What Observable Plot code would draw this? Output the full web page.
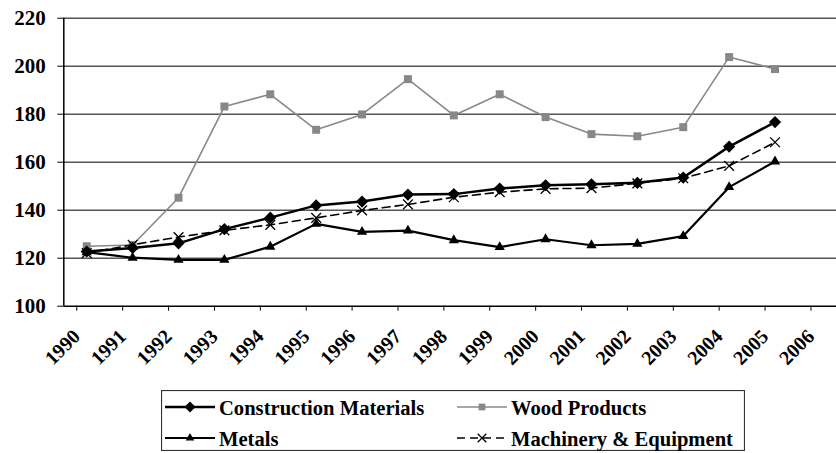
<!DOCTYPE html>
<html><head><meta charset="utf-8">
<script src="https://cdn.jsdelivr.net/npm/d3@7"></script>
<script src="https://cdn.jsdelivr.net/npm/@observablehq/plot@0.6"></script>
<style>
body{margin:0;background:#fff;}
#wrap{position:relative;width:836px;height:453px;overflow:hidden;}
#legend{position:absolute;left:161px;top:390px;}
svg text{font-family:"Liberation Serif","Times New Roman",Times,serif !important;font-weight:bold;}
</style></head><body><div id="wrap"></div>
<script>
const years = [1990,1991,1992,1993,1994,1995,1996,1997,1998,1999,2000,2001,2002,2003,2004,2005];
const tickYears = [1990,1991,1992,1993,1994,1995,1996,1997,1998,1999,2000,2001,2002,2003,2004,2005,2006];
const yTicks = [100,120,140,160,180,200,220];
const seriesNames = ["Construction Materials","Wood Products","Metals","Machinery & Equipment"];
const construction = [122.8,124.3,126.2,132.1,136.9,142.0,143.6,146.5,146.7,149.0,150.4,150.8,151.4,153.6,166.5,176.7];
const wood = [125.0,125.5,145.2,183.2,188.3,173.5,179.9,194.6,179.5,188.3,178.8,171.7,170.8,174.6,203.8,198.8];
const metals = [122.5,120.2,119.3,119.3,124.8,134.3,131.0,131.5,127.5,124.6,127.9,125.4,126.0,129.2,149.6,160.3];
const machinery = [122.1,125.6,128.8,131.6,133.9,136.8,139.9,142.4,145.4,147.5,148.9,149.2,151.2,153.3,158.5,168.3];

const rows = (vals) => years.map((y, i) => ({year: y, value: vals[i]}));
const dWood = rows(wood), dCon = rows(construction), dMet = rows(metals), dMac = rows(machinery);
const xm = d => d.year + 0.5;
const FONT = '"Liberation Serif","Times New Roman",Times,serif';

const chart = Plot.plot({
  width: 836, height: 453,
  marginLeft: 63.3, marginRight: 0, marginTop: 17.7, marginBottom: 147.3,
  x: {domain: [1990, 2006.84], axis: null},
  y: {domain: [100, 220], axis: null},
  style: {fontFamily: FONT, fontWeight: "bold", fontSize: "20px", color: "#000", background: "#fff"},
  marks: [
    Plot.ruleY(yTicks.filter(v => v > 100), {stroke: "#555", strokeWidth: 1.4}),
    Plot.ruleY([100], {stroke: "#000", strokeWidth: 1.5}),
    Plot.ruleX([1990], {y1: 100, y2: 220, stroke: "#000", strokeWidth: 1.5}),
    Plot.axisY({ticks: yTicks, label: null, tickSize: 6, tickPadding: 12, fontSize: 21, fontWeight: "bold", fontFamily: FONT, stroke: "#000"}),
    Plot.axisX({ticks: tickYears, label: null, tickFormat: d => String(d), tickSize: 5, tickPadding: 22, tickRotate: -45, dx: 13, fontSize: 20, fontWeight: "bold", fontFamily: FONT, stroke: "#000"}),
    Plot.line(dWood, {x: xm, y: "value", stroke: "#888", strokeWidth: 1.6}),
    Plot.dot(dWood, {x: xm, y: "value", symbol: "square", r: 4.5, fill: "#888", stroke: "none"}),
    Plot.line(dCon, {x: xm, y: "value", stroke: "#000", strokeWidth: 2.5}),
    Plot.dot(dCon, {x: xm, y: "value", symbol: "diamond2", r: 5.5, fill: "#000", stroke: "none"}),
    Plot.line(dMet, {x: xm, y: "value", stroke: "#000", strokeWidth: 2.2}),
    Plot.dot(dMet, {x: xm, y: "value", symbol: "triangle", r: 3.8, fill: "#000", stroke: "none"}),
    Plot.line(dMac, {x: xm, y: "value", stroke: "#000", strokeWidth: 1.6, strokeDasharray: "8,5"}),
    Plot.dot(dMac, {x: xm, y: "value", symbol: "times", r: 4.5, stroke: "#000", strokeWidth: 1.3})
  ]
});
const wrap = document.getElementById("wrap");
wrap.appendChild(chart);

// Legend
const lw = 584, lh = 61;
const leg = d3.select(wrap).append("svg").attr("id", "legend").attr("width", lw).attr("height", lh)
  .attr("font-family", FONT).attr("font-weight", "bold").attr("font-size", 20.6);
leg.append("rect").attr("x", 0.5).attr("y", 0.5).attr("width", lw - 1).attr("height", lh - 1)
  .attr("fill", "#fff").attr("stroke", "#333").attr("stroke-width", 1.2);
const items = [
  {name: seriesNames[0], col: 0, row: 0, stroke: "#000", sw: 2.5, dash: null, sym: d3.symbolDiamond2, r: 5, fill: "#000", symStroke: "none"},
  {name: seriesNames[1], col: 1, row: 0, stroke: "#888", sw: 1.6, dash: null, sym: d3.symbolSquare, r: 3.8, fill: "#888", symStroke: "none"},
  {name: seriesNames[2], col: 0, row: 1, stroke: "#000", sw: 2.2, dash: null, sym: d3.symbolTriangle, r: 3.2, fill: "#000", symStroke: "none"},
  {name: seriesNames[3], col: 1, row: 1, stroke: "#000", sw: 1.6, dash: "8,5", sym: d3.symbolTimes, r: 4, fill: "none", symStroke: "#000"}
];
const colX = [4, 296], rowY = [17, 48];
items.forEach(it => {
  const x0 = colX[it.col], yy = rowY[it.row];
  leg.append("line").attr("x1", x0).attr("x2", x0 + 50).attr("y1", yy).attr("y2", yy)
    .attr("stroke", it.stroke).attr("stroke-width", it.sw).attr("stroke-dasharray", it.dash);
  leg.append("path").attr("d", d3.symbol(it.sym, Math.PI * it.r * it.r)())
    .attr("transform", `translate(${x0 + 25},${yy})`).attr("fill", it.fill)
    .attr("stroke", it.symStroke).attr("stroke-width", 1.3);
  leg.append("text").attr("x", x0 + 54).attr("y", yy + 7.5).text(it.name);
});
</script></body></html>
